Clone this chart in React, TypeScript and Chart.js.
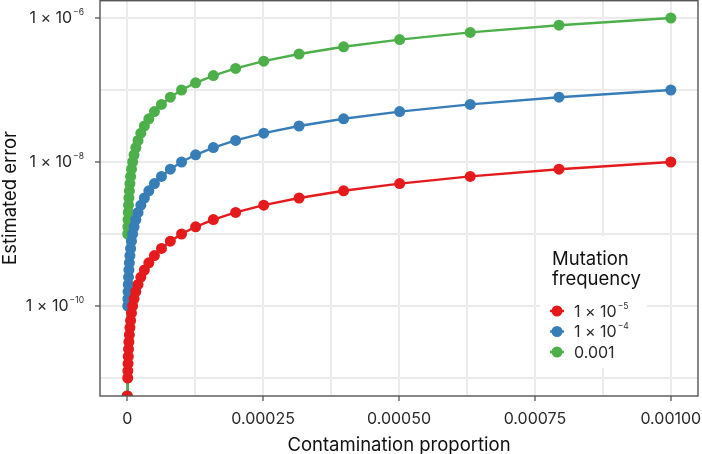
import React, { useEffect, useRef } from 'react';
import { Chart, registerables } from 'chart.js';

Chart.register(...registerables);

const FONT = 'Inter, "Noto Sans", "DejaVu Sans", sans-serif';

// Contamination proportion (x) and estimated error for each mutation frequency.
const contamination = [
  0,
  1.0e-6, 1.259e-6, 1.585e-6, 1.995e-6, 2.512e-6, 3.162e-6, 3.981e-6, 5.012e-6, 6.31e-6, 7.943e-6,
  1.0e-5, 1.259e-5, 1.585e-5, 1.995e-5, 2.512e-5, 3.162e-5, 3.981e-5, 5.012e-5, 6.31e-5, 7.943e-5,
  1.0e-4, 1.259e-4, 1.585e-4, 1.995e-4, 2.512e-4, 3.162e-4, 3.981e-4, 5.012e-4, 6.31e-4, 7.943e-4,
  1.0e-3,
];

const errorFreq1e5 = [
  0,
  1.0e-11, 1.259e-11, 1.585e-11, 1.995e-11, 2.512e-11, 3.162e-11, 3.981e-11, 5.012e-11, 6.31e-11, 7.943e-11,
  1.0e-10, 1.259e-10, 1.585e-10, 1.995e-10, 2.512e-10, 3.162e-10, 3.981e-10, 5.012e-10, 6.31e-10, 7.943e-10,
  1.0e-9, 1.259e-9, 1.585e-9, 1.995e-9, 2.512e-9, 3.162e-9, 3.981e-9, 5.012e-9, 6.31e-9, 7.943e-9,
  1.0e-8,
];

const errorFreq1e4 = [
  0,
  1.0e-10, 1.259e-10, 1.585e-10, 1.995e-10, 2.512e-10, 3.162e-10, 3.981e-10, 5.012e-10, 6.31e-10, 7.943e-10,
  1.0e-9, 1.259e-9, 1.585e-9, 1.995e-9, 2.512e-9, 3.162e-9, 3.981e-9, 5.012e-9, 6.31e-9, 7.943e-9,
  1.0e-8, 1.259e-8, 1.585e-8, 1.995e-8, 2.512e-8, 3.162e-8, 3.981e-8, 5.012e-8, 6.31e-8, 7.943e-8,
  1.0e-7,
];

const errorFreq1e3 = [
  0,
  1.0e-9, 1.259e-9, 1.585e-9, 1.995e-9, 2.512e-9, 3.162e-9, 3.981e-9, 5.012e-9, 6.31e-9, 7.943e-9,
  1.0e-8, 1.259e-8, 1.585e-8, 1.995e-8, 2.512e-8, 3.162e-8, 3.981e-8, 5.012e-8, 6.31e-8, 7.943e-8,
  1.0e-7, 1.259e-7, 1.585e-7, 1.995e-7, 2.512e-7, 3.162e-7, 3.981e-7, 5.012e-7, 6.31e-7, 7.943e-7,
  1.0e-6,
];

// Legend labels as [mantissa text, superscript exponent]
const seriesLabels: [string, string][] = [
  ['1 × 10', '−5'],
  ['1 × 10', '−4'],
  ['0.001', ''],
];
const seriesColors = ['#E41A1C', '#377EB8', '#4DAF4A'];
const legendTitle = ['Mutation', 'frequency'];

// Axis ranges and breaks
const X_MIN = -0.00005;
const X_MAX = 0.00105;
const Y_MIN = 5.623e-12;
const Y_MAX = 1.778e-6;

const xMajorTicks = [0, 0.00025, 0.0005, 0.00075, 0.001];
const xTickLabels = ['0', '0.00025', '0.00050', '0.00075', '0.00100'];
const xMinorTicks = [0.000125, 0.000375, 0.000625, 0.000875];

const yMajorTicks = [1e-10, 1e-8, 1e-6];
const yTickExponents = ['−10', '−8', '−6'];
const yMinorTicks = [1e-11, 1e-9, 1e-7];

const GRID = '#EBEBEB';
const AXIS = '#555555';
const TEXT = '#2a2a2a';
const LABEL_SIZE = 16;
const SUP_SIZE = 8.5;
const TITLE_SIZE = 18.5;
const POINT_RADIUS = 5.5;
const LINE_WIDTH = 2.4;

const isIn = (arr: number[], v: number) => arr.some((a) => Math.abs(a - v) <= Math.abs(a) * 1e-9 + 1e-15);

// Draws a mantissa followed by a raised, smaller exponent.
function drawPowerText(
  ctx: CanvasRenderingContext2D,
  base: string,
  exp: string,
  x: number,
  baseline: number,
  align: 'left' | 'right',
) {
  ctx.font = `${LABEL_SIZE}px ${FONT}`;
  const bw = ctx.measureText(base).width;
  ctx.font = `${SUP_SIZE}px ${FONT}`;
  const ew = exp ? ctx.measureText(exp).width + 1 : 0;
  const x0 = align === 'right' ? x - bw - ew : x;
  ctx.textAlign = 'left';
  ctx.textBaseline = 'alphabetic';
  ctx.font = `${LABEL_SIZE}px ${FONT}`;
  ctx.fillText(base, x0, baseline);
  if (exp) {
    ctx.font = `${SUP_SIZE}px ${FONT}`;
    ctx.fillText(exp, x0 + bw + 1, baseline - 8);
  }
}

const panelBorderPlugin = {
  id: 'panelBorder',
  afterDatasetsDraw(chart: any) {
    const { ctx, chartArea: a } = chart;
    ctx.save();
    ctx.strokeStyle = AXIS;
    ctx.lineWidth = 1.4;
    const top = a.top + 0.7;
    ctx.strokeRect(a.left, top, a.right - a.left, a.bottom - top);
    ctx.restore();
  },
};

const yLabelPlugin = {
  id: 'yPowerLabels',
  afterDraw(chart: any) {
    const { ctx, chartArea } = chart;
    const yScale = chart.scales.y;
    ctx.save();
    ctx.fillStyle = TEXT;
    yMajorTicks.forEach((v, i) => {
      const py = yScale.getPixelForValue(v);
      drawPowerText(ctx, '1 × 10', yTickExponents[i], chartArea.left - 16, py + 5, 'right');
    });
    ctx.restore();
  },
};

const legendPlugin = {
  id: 'insetLegend',
  afterDraw(chart: any) {
    const { ctx, chartArea: a } = chart;
    const left = a.right - 158;
    const top = a.bottom - 160;
    ctx.save();
    ctx.fillStyle = '#ffffff';
    ctx.fillRect(left, top, 107, 132);

    ctx.fillStyle = '#111111';
    ctx.font = `${TITLE_SIZE}px ${FONT}`;
    ctx.textAlign = 'left';
    ctx.textBaseline = 'alphabetic';
    legendTitle.forEach((line, i) => {
      ctx.fillText(line, left + 12, top + 29 + i * 19.5);
    });

    seriesLabels.forEach(([base, exp], i) => {
      const cy = top + 75 + i * 20.5;
      const cx = left + 17;
      ctx.strokeStyle = seriesColors[i];
      ctx.lineWidth = LINE_WIDTH;
      ctx.beginPath();
      ctx.moveTo(cx - 7, cy);
      ctx.lineTo(cx + 7, cy);
      ctx.stroke();
      ctx.fillStyle = seriesColors[i];
      ctx.beginPath();
      ctx.arc(cx, cy, POINT_RADIUS, 0, Math.PI * 2);
      ctx.fill();
      ctx.fillStyle = TEXT;
      drawPowerText(ctx, base, exp, left + 34, cy + 5.5, 'left');
    });
    ctx.restore();
  },
};

export default function App() {
  const canvasRef = useRef<HTMLCanvasElement | null>(null);

  useEffect(() => {
    const canvas = canvasRef.current;
    if (!canvas) return;

    const series = [errorFreq1e5, errorFreq1e4, errorFreq1e3];
    // Zero errors sit on the lower edge of the log axis.
    const toPoints = (ys: number[]) => contamination.map((x, i) => ({ x, y: Math.max(ys[i], Y_MIN) }));

    const lineSets = series.map((ys, i) => ({
      label: `line-${i}`,
      data: toPoints(ys),
      borderColor: seriesColors[i],
      backgroundColor: seriesColors[i],
      borderWidth: LINE_WIDTH,
      pointRadius: 0,
      tension: 0,
      fill: false,
      clip: 0,
      order: 10 - i,
    }));
    const pointSets = series.map((ys, i) => ({
      label: `points-${i}`,
      data: toPoints(ys),
      showLine: false,
      pointRadius: POINT_RADIUS,
      pointBackgroundColor: seriesColors[i],
      pointBorderColor: seriesColors[i],
      pointBorderWidth: 0,
      clip: 0,
      order: 1 + i,
    }));

    const tickColor = (majors: number[]) => (c: any) =>
      c.tick && isIn(majors, c.tick.value) ? AXIS : 'rgba(0,0,0,0)';

    const chart = new Chart(canvas, {
      type: 'line',
      data: { datasets: [...lineSets, ...pointSets] as any },
      options: {
        animation: false,
        responsive: false,
        devicePixelRatio: 1,
        layout: { autoPadding: false, padding: { left: 0, right: 4, top: 0, bottom: 0 } },
        plugins: { legend: { display: false }, tooltip: { enabled: false } },
        scales: {
          x: {
            type: 'linear',
            min: X_MIN,
            max: X_MAX,
            bounds: 'data',
            afterBuildTicks: (s: any) => {
              s.ticks = [...xMinorTicks, ...xMajorTicks].sort((a, b) => a - b).map((value) => ({ value }));
            },
            afterFit: (s: any) => {
              s.height = 58;
              s.paddingLeft = 0;
              s.paddingRight = 0;
            },
            grid: {
              color: GRID,
              lineWidth: 2,
              tickLength: 5,
              tickWidth: 1.3,
              tickColor: tickColor(xMajorTicks),
            },
            border: { display: false },
            ticks: {
              autoSkip: false,
              maxRotation: 0,
              padding: 9,
              color: TEXT,
              font: { family: FONT, size: LABEL_SIZE },
              callback: (v: any) => {
                const idx = xMajorTicks.findIndex((m) => Math.abs(m - Number(v)) < 1e-12);
                return idx >= 0 ? xTickLabels[idx] : '';
              },
            },
            title: {
              display: true,
              text: 'Contamination proportion',
              color: '#111111',
              font: { family: FONT, size: TITLE_SIZE, lineHeight: 0.8 },
              padding: { top: 0, bottom: 1 },
            },
          },
          y: {
            type: 'logarithmic',
            min: Y_MIN,
            max: Y_MAX,
            bounds: 'data',
            afterBuildTicks: (s: any) => {
              s.ticks = [...yMinorTicks, ...yMajorTicks].sort((a, b) => a - b).map((value) => ({ value }));
            },
            afterFit: (s: any) => {
              s.width = 100;
              s.paddingTop = 0;
              s.paddingBottom = 0;
            },
            grid: {
              color: GRID,
              lineWidth: 2,
              tickLength: 5,
              tickWidth: 1.3,
              tickColor: tickColor(yMajorTicks),
            },
            border: { display: false },
            ticks: {
              display: false,
              autoSkip: false,
            },
            title: {
              display: true,
              text: 'Estimated error',
              color: '#111111',
              font: { family: FONT, size: TITLE_SIZE, lineHeight: 1.2 },
              padding: { top: -1, bottom: 0 },
            },
          },
        },
      },
      plugins: [panelBorderPlugin, yLabelPlugin, legendPlugin],
    });

    return () => chart.destroy();
  }, []);

  return (
    <div style={{ position: 'absolute', left: 0, top: 0, width: 702, height: 454, background: '#ffffff' }}>
      <canvas ref={canvasRef} width={702} height={454} style={{ display: 'block' }} />
    </div>
  );
}
